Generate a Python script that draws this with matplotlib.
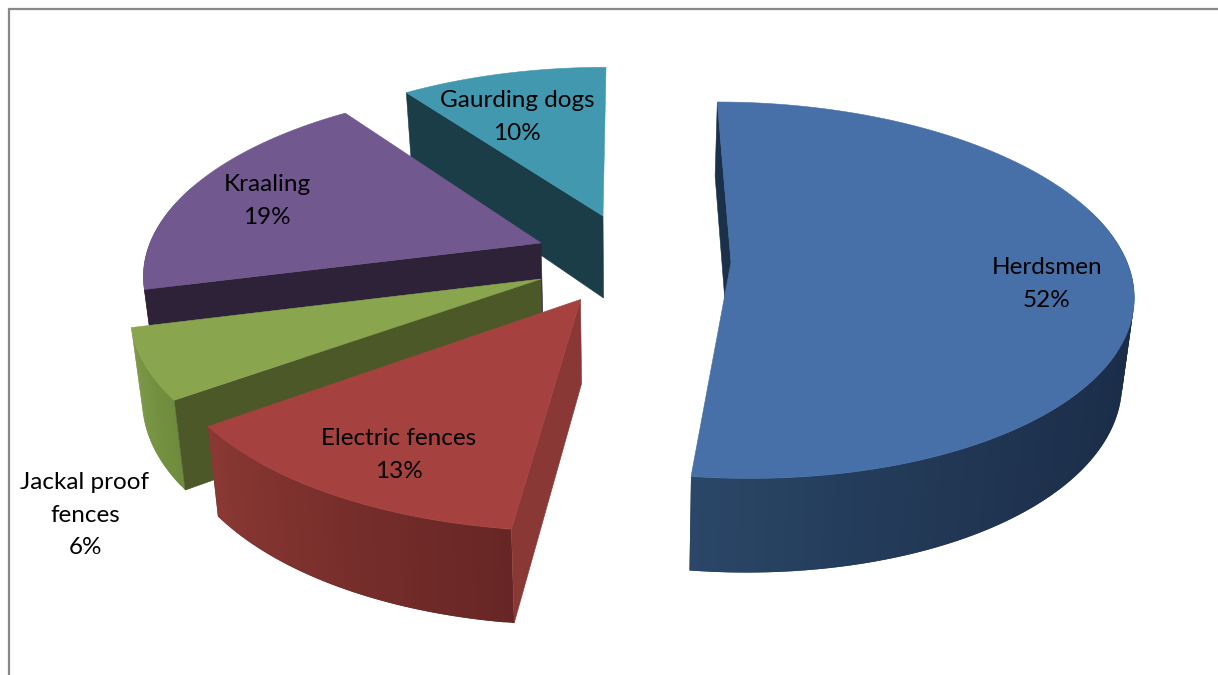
import matplotlib
matplotlib.use('Agg')
import matplotlib.pyplot as plt
import matplotlib.colors as mcolors
import numpy as np

categories = ['Herdsmen', 'Electric fences', 'Jackal proof\nfences', 'Kraaling', 'Gaurding dogs']
values = [52, 13, 6, 19, 10]

# look of each slice: top colour, radial wall colour, outer wall colours (start, end of the slice)
top_colors = ['#4670A7', '#A5423F', '#89A54E', '#71588F', '#4198AF']
face_colors = ['#1B3049', '#8A3835', '#4C5827', '#2D2237', '#1A3D48']
arc_colors = [('#1A2C47', '#2B4768'), ('#672625', '#8A3833'), ('#6F8C3E', '#7E9B49'),
              ('#5A4672', '#5A4672'), ('#357E92', '#357E92')]

# exploded position of each slice in picture pixels (x, y, x radius, y radius, depth)
apex = [(731, 262, 396, 184, 84), (580.5, 299.5, 415, 197, 84), (541, 279, 404, 188, 84),
        (541, 243, 391, 180, 84), (603, 216, 380, 171, 82)]
label_pos = [(1047, 284), (399, 455), (85, 515), (267, 201), (517, 117)]
draw_order = [4, 3, 2, 1, 0]

persp = 0.15
vanish_x = 626
depth_lean = 0.024


def top_point(th, p):
    ax_, ay_, rx, ry, d = p
    u, v = np.sin(th), np.cos(th)
    w = 1 + persp * v
    x = ax_ + rx * u / w + (vanish_x - ax_) * persp * v / w
    y = ay_ - ry * v / w
    return x, y


def bottom_point(x, y, v, d):
    return x + (vanish_x - x) * depth_lean, y + d * (1 - 0.12 * v)


def radial_wall(t, p, col):
    ab = bottom_point(p[0], p[1], 0, p[4])
    x, y = top_point(t, p)
    xb, yb = bottom_point(x, y, np.cos(t), p[4])
    ax.fill([p[0], x, xb, ab[0]], [p[1], y, yb, ab[1]], color=col, lw=0.4)


fig = plt.figure(figsize=(12.18, 6.75), dpi=100)
ax = fig.add_axes([0, 0, 1, 1])
ax.set_xlim(0, 1218)
ax.set_ylim(675, 0)
ax.axis('off')

ax.plot([8.5, 8.5, 1218], [675, 8.5, 8.5], color='#888888', lw=1.6, solid_joinstyle='miter')

edges = np.cumsum([0] + values) / sum(values) * 2 * np.pi

for i in draw_order:
    p = apex[i]
    d = p[4]
    t0, t1 = edges[i], edges[i + 1]
    # outer wall in strips for the shading, each one overlaps the next so no seams show
    ths = np.linspace(t0, t1, int(values[i] * 3) + 2)
    c0 = np.array(mcolors.to_rgb(arc_colors[i][0]))
    c1 = np.array(mcolors.to_rgb(arc_colors[i][1]))
    for j in range(len(ths) - 1):
        # the back of the rim is never seen
        if np.cos(ths[j]) > 0.3:
            continue
        k = min(j + 2, len(ths) - 1)
        xa, ya = top_point(ths[j], p)
        xc, yc = top_point(ths[k], p)
        xab, yab = bottom_point(xa, ya, np.cos(ths[j]), d)
        xcb, ycb = bottom_point(xc, yc, np.cos(ths[k]), d)
        f = j / max(len(ths) - 2, 1)
        if i == 0:
            # herdsmen only darkens over the front half
            f = max(0, (ths[j] - np.pi / 2) / (t1 - np.pi / 2)) ** 2
        ax.fill([xa, xc, xcb, xab], [ya, yc, ycb, yab], color=c0 + (c1 - c0) * f, lw=0)
    # only the radial walls that face the viewer
    if np.sin(t0) < 1e-9:
        radial_wall(t0, p, face_colors[i])
    if np.sin(t1) > 1e-9:
        radial_wall(t1, p, face_colors[i])
    # top surface
    ths = np.linspace(t0, t1, 200)
    xs, ys = top_point(ths, p)
    ax.fill(np.r_[p[0], xs], np.r_[p[1], ys], color=top_colors[i], lw=0.4)

for i in range(len(categories)):
    ax.text(label_pos[i][0], label_pos[i][1], '%s\n%d%%' % (categories[i], values[i]),
            ha='center', va='center', family='Lato', fontsize=17.5, color='black', linespacing=1.65)

plt.savefig('out.png', dpi=100)
